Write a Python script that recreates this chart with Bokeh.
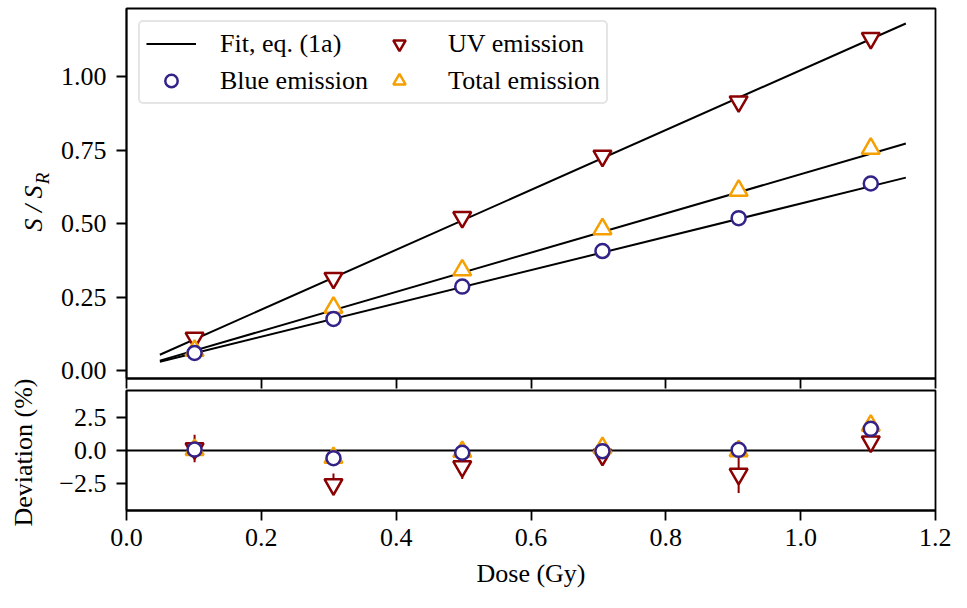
from bokeh.plotting import figure
from bokeh.models import (Range1d, FixedTicker, NumeralTickFormatter, CustomJSTickFormatter,
                          Legend, LegendItem, Span)
from bokeh.core.properties import value
from bokeh.layouts import column, row
from bokeh.embed import file_html
from bokeh.resources import INLINE

# ---------------- data ----------------
dose = [0.101, 0.307, 0.498, 0.706, 0.908, 1.104]
blue_ratio = [0.060, 0.176, 0.286, 0.407, 0.519, 0.637]
uv_ratio = [0.111, 0.315, 0.522, 0.731, 0.916, 1.132]
total_ratio = [0.068, 0.215, 0.342, 0.482, 0.613, 0.756]

fit_dose = [0.0495, 1.156]
fit_blue = [0.030, 0.657]
fit_uv = [0.054, 1.182]
fit_total = [0.034, 0.773]

blue_dev = [0.07, -0.59, -0.17, -0.05, 0.05, 1.66]
blue_dev_err = [0.25, 0.25, 0.25, 0.25, 0.25, 0.25]
uv_dev = [0.15, -2.6, -1.23, -0.35, -1.8, 0.68]
uv_dev_err = [1.05, 0.83, 0.95, 0.4, 1.45, 0.4]
total_dev = [0.06, -0.55, -0.09, 0.2, -0.04, 1.92]
total_dev_err = [0.3, 0.3, 0.3, 0.3, 0.3, 0.3]

x_ticks = [0.0, 0.2, 0.4, 0.6, 0.8, 1.0, 1.2]
ratio_ticks = [0.0, 0.25, 0.5, 0.75, 1.0]
dev_ticks = [-2.5, 0.0, 2.5]

# ---------------- style ----------------
FONT = "Liberation Serif"
FS = "26px"
BLUE = "#332288"
RED = "#8B0000"
ORANGE = "#F5A000"
LW = 1.8
TOTAL_W = 951
TOTAL_H = 590
TITLE_W = 54          # narrow strip holding the rotated y titles
W = TOTAL_W - TITLE_W
LEFT = 72
RIGHT = 16
H1 = 389
H2 = TOTAL_H - H1


def style_axis(ax):
    ax.axis_line_width = LW
    ax.axis_line_color = "black"
    ax.major_tick_line_width = LW
    ax.major_tick_line_color = "black"
    ax.major_tick_out = 10
    ax.major_tick_in = 0
    ax.minor_tick_out = 0
    ax.minor_tick_in = 0
    ax.major_label_text_font = FONT
    ax.major_label_text_font_size = FS
    ax.major_label_text_color = "black"
    ax.axis_label_text_font = FONT
    ax.axis_label_text_font_size = FS
    ax.axis_label_text_font_style = "normal"
    ax.axis_label_text_color = "black"
    ax.major_label_standoff = 10


def style(p):
    p.grid.visible = False
    p.outline_line_color = "black"
    p.outline_line_width = LW
    p.outline_line_alpha = 1
    p.background_fill_color = "white"
    p.border_fill_color = "white"
    for ax in list(p.xaxis) + list(p.yaxis):
        style_axis(ax)


# ---------------- top panel ----------------
p1 = figure(width=W, height=H1, x_range=Range1d(0, 1.2), y_range=Range1d(-0.027, 1.233),
            output_backend="svg", toolbar_location=None,
            min_border_left=LEFT, min_border_right=RIGHT, min_border_top=8, min_border_bottom=11)
style(p1)
p1.xaxis.ticker = FixedTicker(ticks=x_ticks)
p1.xaxis.formatter = CustomJSTickFormatter(code="return '';")
p1.xaxis.major_label_standoff = 0
p1.xaxis.major_label_text_font_size = "1px"
p1.yaxis.ticker = FixedTicker(ticks=ratio_ticks)
p1.yaxis.formatter = NumeralTickFormatter(format="0.00")

fit_r = p1.line(fit_dose, fit_uv, line_color="black", line_width=2)
p1.line(fit_dose, fit_total, line_color="black", line_width=2)
p1.line(fit_dose, fit_blue, line_color="black", line_width=2)

uv_r = p1.scatter(dose, uv_ratio, marker="inverted_triangle", size=18, fill_color="white",
                  line_color=RED, line_width=2.5)
tot_r = p1.scatter(dose, total_ratio, marker="triangle", size=18, fill_color="white",
                   line_color=ORANGE, line_width=2.5)
blue_r = p1.scatter(dose, blue_ratio, marker="circle", size=14, fill_color="white",
                    line_color=BLUE, line_width=2.5)

legend = Legend(items=[
    LegendItem(label="Fit, eq. (1a)", renderers=[fit_r]),
    LegendItem(label="Blue emission", renderers=[blue_r]),
    LegendItem(label="UV emission", renderers=[uv_r]),
    LegendItem(label="Total emission", renderers=[tot_r]),
], location="top_left", ncols=2)
legend.label_text_font = FONT
legend.label_text_font_size = FS
legend.label_text_color = "black"
legend.glyph_width = 50
legend.glyph_height = 31
legend.label_height = 30
legend.label_standoff = 24
legend.spacing = 6
legend.padding = 6
legend.margin = 12
legend.border_line_color = "#cccccc"
legend.border_line_width = 2
legend.background_fill_alpha = 0.85
if "border_radius" in Legend.properties():
    legend.border_radius = 5
p1.add_layout(legend)

# ---------------- bottom panel ----------------
p2 = figure(width=W, height=H2, x_range=p1.x_range, y_range=Range1d(-4.6, 4.6),
            output_backend="svg", toolbar_location=None,
            min_border_left=LEFT, min_border_right=RIGHT, min_border_top=1, min_border_bottom=77)
style(p2)
p2.xaxis.ticker = FixedTicker(ticks=x_ticks)
p2.xaxis.formatter = NumeralTickFormatter(format="0.0")
p2.xaxis.major_label_standoff = 8
p2.xaxis.axis_label = "Dose (Gy)"
p2.xaxis.axis_label_standoff = 10
p2.yaxis.ticker = FixedTicker(ticks=dev_ticks)
p2.yaxis.formatter = CustomJSTickFormatter(code="return tick.toFixed(1).replace('-', '\u2212');")

p2.add_layout(Span(location=0, dimension="width", line_color="black", line_width=LW,
                   level="underlay"))


def errbars(p, vals, errs, color):
    p.segment(x0=dose, x1=dose, y0=[v - e for v, e in zip(vals, errs)],
              y1=[v + e for v, e in zip(vals, errs)], line_color=color, line_width=2)


errbars(p2, uv_dev, uv_dev_err, RED)
p2.scatter(dose, uv_dev, marker="inverted_triangle", size=18, fill_color="white",
           line_color=RED, line_width=2.5)
errbars(p2, total_dev, total_dev_err, ORANGE)
p2.scatter(dose, total_dev, marker="triangle", size=18, fill_color="white",
           line_color=ORANGE, line_width=2.5)
errbars(p2, blue_dev, blue_dev_err, BLUE)
p2.scatter(dose, blue_dev, marker="circle", size=14, fill_color="white",
           line_color=BLUE, line_width=2.5)

# ---------------- strip with the rotated y-axis titles (pixel coordinates) ----------------
pt = figure(width=TITLE_W, height=TOTAL_H, x_range=Range1d(0, TITLE_W), y_range=Range1d(0, TOTAL_H),
            output_backend="svg", toolbar_location=None, x_axis_location=None, y_axis_location=None,
            min_border_left=0, min_border_right=0, min_border_top=0, min_border_bottom=0)
pt.grid.visible = False
pt.outline_line_color = None
pt.background_fill_color = "white"
pt.border_fill_color = "white"
ang = 1.5707963
pt.text(x=[33], y=[TOTAL_H - 208], text=["S / S"], angle=ang, text_font=value(FONT),
        text_font_size="26px", text_font_style="italic", text_align="center",
        text_baseline="middle", text_color="black")
pt.text(x=[41.5], y=[TOTAL_H - 178], text=["R"], angle=ang, text_font=value(FONT),
        text_font_size="19px", text_font_style="italic", text_align="center",
        text_baseline="middle", text_color="black")
pt.text(x=[23], y=[TOTAL_H - 452], text=["Deviation (%)"], angle=ang, text_font=value(FONT),
        text_font_size="26px", text_align="center", text_baseline="middle", text_color="black")

layout = row(pt, column(p1, p2, spacing=0), spacing=0)
open("out.html", "w").write(file_html(layout, INLINE))
